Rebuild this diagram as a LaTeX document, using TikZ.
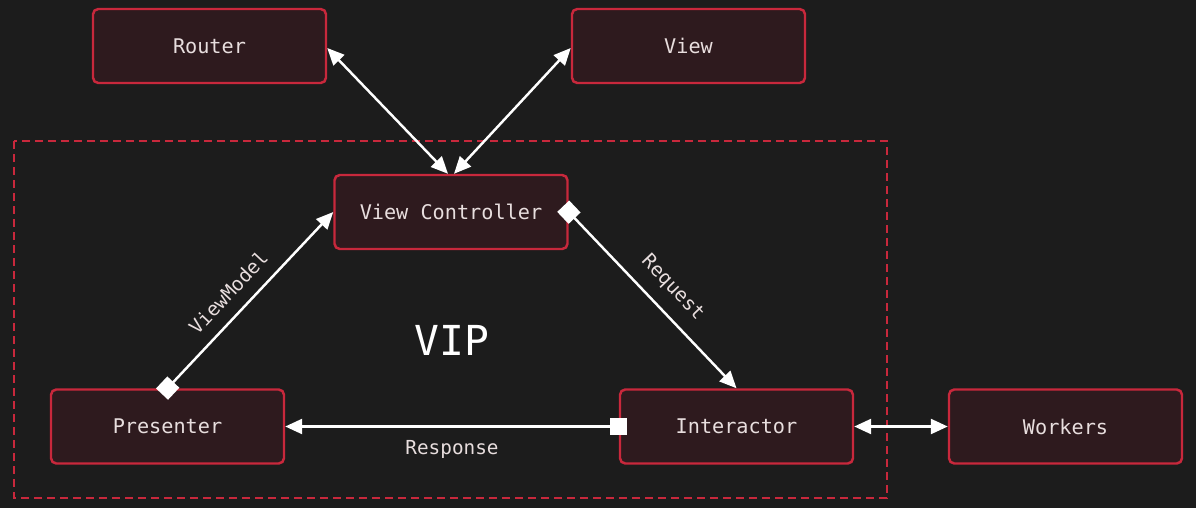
\documentclass[tikz,border=0pt]{standalone}
\usepackage{fontspec}
\setmonofont{DejaVu Sans Mono}
\usetikzlibrary{arrows.meta}
\definecolor{bgdark}{HTML}{1C1C1C}
\definecolor{boxfill}{HTML}{2E1A1E}
\definecolor{boxline}{HTML}{C8283C}
\definecolor{txt}{HTML}{E8DEDE}

\begin{document}
\begin{tikzpicture}[font=\ttfamily\fontsize{11.5}{13}\selectfont, text=txt,
  box/.style={draw=boxline, fill=boxfill, line width=1.4pt, rounded corners=3pt,
    minimum width=4.66cm, minimum height=1.48cm, inner sep=0pt},
  arr/.style={{Triangle[length=3.4mm,width=3mm]}-{Triangle[length=3.4mm,width=3mm]},
    draw=white, line width=1.4pt},
  sq/.style={{Square[length=3.3mm,width=3.3mm]}-{Triangle[length=3.4mm,width=3mm]},
    draw=white, fill=white, line width=1.4pt, shorten <=-1.6mm},
  lbl/.style={font=\ttfamily\fontsize{11}{13}\selectfont, inner sep=2.5mm}]
\fill[bgdark] (0,0) rectangle (23.92,-10.16);
\useasboundingbox (0,0) rectangle (23.92,-10.16);
% VIP frame
\draw[boxline, line width=1.5pt, dash pattern=on 0.16cm off 0.1cm] (0.28,-2.82) rectangle (17.74,-9.96);
\node[font=\ttfamily\fontsize{23.5}{26}\selectfont, text=white] (vip) at (9.04,-6.8) {VIP};
% boxes
\node[box] (router) at (4.19,-0.92) {Router};
\node[box] (view) at (13.77,-0.92) {View};
\node[box] (vc) at (9.02,-4.24) {View Controller};
\node[box] (pres) at (3.35,-8.53) {Presenter};
\node[box] (inter) at (14.73,-8.53) {Interactor};
\node[box] (work) at (21.31,-8.53) {Workers};
% connectors
\draw[arr] ([yshift=-0.04cm]router.east) -- ([xshift=-0.06cm]vc.north);
\draw[arr] ([yshift=-0.04cm]view.west) -- ([xshift=0.06cm]vc.north);
\draw[arr] (inter.east) -- (work.west);
\draw[sq] (vc.east) -- node[lbl, sloped, above, pos=0.52] {Request} (inter.north);
\draw[sq] (pres.north) -- node[lbl, sloped, above, pos=0.46] {ViewModel} (vc.west);
\draw[sq] (inter.west) -- node[lbl, below, pos=0.5] {Response} (pres.east);
\end{tikzpicture}
\end{document}
